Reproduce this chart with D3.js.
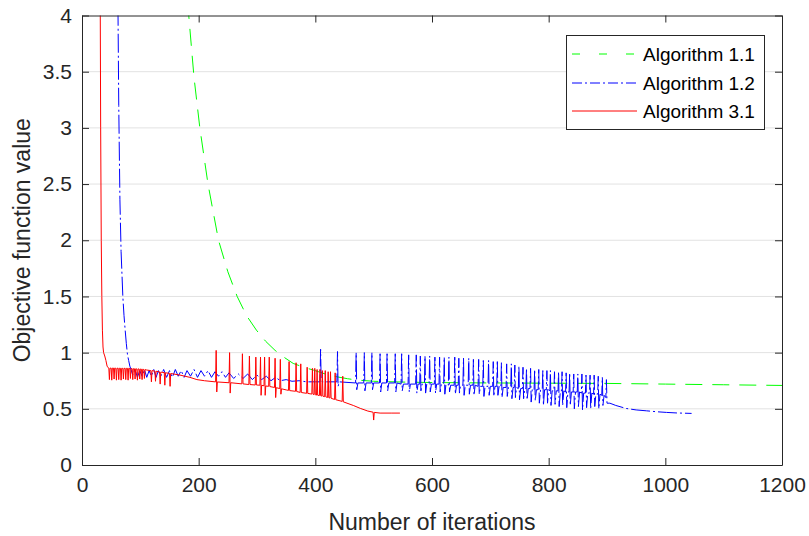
<!DOCTYPE html>
<html>
<head>
<meta charset="utf-8">
<script src="https://cdn.jsdelivr.net/npm/d3@7"></script>
<style>
  html, body { margin: 0; padding: 0; background: #fff; }
  svg { display: block; }
  text { font-family: "Liberation Sans", Arial, Helvetica, sans-serif; }
</style>
</head>
<body>
<svg id="chart" width="809" height="536"></svg>
<script>
// ---- Data ----
const xTicks = [0, 200, 400, 600, 800, 1000, 1200];
const yTicks = [0, 0.5, 1, 1.5, 2, 2.5, 3, 3.5, 4];
const yTickLabels = ["0", "0.5", "1", "1.5", "2", "2.5", "3", "3.5", "4"];
const seriesNames = ["Algorithm 1.1", "Algorithm 1.2", "Algorithm 3.1"];

// Algorithm 1.1 (green, dashed)
const alg11 = [[175,4.6],[183,4.0],[192,3.45],[202,3.0],[216,2.5],[234,2.0],[250,1.72],[266,1.5],[282,1.33],
  [299,1.2],[315,1.1],[331,1.02],[346,0.96],[362,0.904],[380,0.87],[397,0.844],[417,0.81],[437,0.785],
  [455,0.768],[471,0.756],[500,0.745],[550,0.738],[600,0.734],[700,0.73],[800,0.728],[900,0.726],
  [1000,0.72],[1100,0.714],[1200,0.708]];

// Algorithm 1.2 (blue, dash-dot)
const alg12 = [[58,6],[61,4.5],[63,3.2],[65,2.36],[67,1.9],[70,1.5],[72,1.33],[74,1.2],[76,1.08],[78,0.98],
  [80,0.93],[82,0.88],[84,0.85],[87,0.80],[91,0.85],[95,0.78],[99,0.84],[103,0.79],[107,0.85],[111,0.78],
  [115,0.84],[119,0.79],[123,0.85],[127,0.78],[131,0.84],[135,0.79],[140,0.85],[145,0.78],[150,0.84],
  [155,0.78],[160,0.85],[165,0.79],[170,0.84],[175,0.78],[180,0.84],[186,0.79],[192,0.85],[198,0.78],
  [204,0.84],[210,0.79],[216,0.84],[222,0.78],[228,0.83],[234,0.79],[240,0.83],[246,0.78],[252,0.82],
  [260,0.77],[268,0.81],[276,0.77],[284,0.81],[292,0.76],[300,0.80],[308,0.76],[316,0.79],[324,0.75],
  [332,0.78],[340,0.75],[350,0.76],[360,0.745],[372,0.75],[385,0.74],[400,0.74],[408,0.74],
  [409,1.03],[410,0.76],[412,0.74],[437,0.74],[438,1.01],[439,0.70],[441,0.74],
  [469,0.73],[470,1.00],[471,0.67],[473,0.73],[483,0.73],[484,1.00],[485,0.66],[487,0.73],
  [496,0.73],[497,1.00],[498,0.67],[500,0.73],[510,0.73],[511,0.99],[512,0.65],[514,0.73],
  [522,0.73],[523,0.99],[524,0.66],[526,0.73],[536,0.73],[537,0.99],[538,0.65],[540,0.73],
  [547,0.72],[548,0.99],[549,0.66],[551,0.72],[559,0.72],[560,0.98],[561,0.65],[563,0.72],
  [572,0.72],[573,0.98],[574,0.64],[576,0.72],[579,0.72],[580,0.97],[581,0.66],[583,0.72],
  [587,0.72],[588,0.97],[589,0.64],[591,0.72],[595,0.72],[596,0.97],[597,0.65],[599,0.72],
  [604,0.72],[605,0.96],[606,0.64],[608,0.72],[612,0.72],[613,0.96],[614,0.65],[616,0.72],
  [620,0.72],[621,0.96],[622,0.63],[624,0.72],[628,0.71],[629,0.96],[630,0.65],[632,0.71],
  [638,0.71],[639,0.96],[640,0.63],[642,0.71],[645,0.71],[646,0.95],[647,0.64],[649,0.71],
  [653,0.71],[654,0.95],[655,0.62],[657,0.71],[662,0.71],[663,0.95],[664,0.63],[666,0.71],
  [670,0.71],[671,0.94],[672,0.62],[674,0.71],[679,0.70],[680,0.94],[681,0.63],[683,0.70],
  [687,0.70],[688,0.93],[689,0.61],[691,0.70],[696,0.70],[697,0.93],[698,0.62],[700,0.70],
  [704,0.70],[705,0.92],[706,0.61],[708,0.70],[711,0.70],[712,0.92],[713,0.62],[715,0.70],
  [718,0.69],[719,0.91],[720,0.60],[722,0.69],[727,0.69],[728,0.90],[729,0.61],[731,0.69],
  [735,0.69],[736,0.90],[737,0.59],[739,0.69],[741,0.69],[742,0.89],[743,0.60],[745,0.69],
  [748,0.68],[749,0.88],[750,0.58],[752,0.68],[755,0.68],[756,0.87],[757,0.59],[759,0.68],
  [761,0.68],[762,0.86],[763,0.58],[765,0.68],[768,0.68],[769,0.86],[770,0.56],[772,0.68],
  [775,0.67],[776,0.85],[777,0.57],[779,0.67],[782,0.67],[783,0.85],[784,0.55],[786,0.67],
  [789,0.67],[790,0.84],[791,0.53],[793,0.67],[796,0.67],[797,0.84],[798,0.55],[800,0.67],
  [802,0.66],[803,0.84],[804,0.53],[806,0.66],[809,0.66],[810,0.83],[811,0.54],[813,0.66],
  [816,0.66],[817,0.83],[818,0.52],[820,0.66],[822,0.66],[823,0.83],[824,0.53],[826,0.66],
  [829,0.65],[830,0.82],[831,0.51],[833,0.65],[835,0.65],[836,0.82],[837,0.53],[839,0.65],
  [842,0.65],[843,0.81],[844,0.50],[846,0.65],[849,0.65],[850,0.81],[851,0.52],[853,0.65],
  [856,0.64],[857,0.81],[858,0.49],[860,0.64],[863,0.64],[864,0.80],[865,0.51],[867,0.64],
  [870,0.64],[871,0.80],[872,0.50],[874,0.64],[877,0.63],[878,0.80],[879,0.52],[881,0.63],
  [884,0.63],[885,0.79],[886,0.50],[888,0.63],[891,0.62],[892,0.78],[893,0.53],[895,0.62],
  [898,0.60],[899,0.76],[900,0.55],[905,0.55],[915,0.53],[933,0.503],[950,0.49],[968,0.482],
  [985,0.474],[1002,0.468],[1020,0.463],[1045,0.459]];

// Algorithm 3.1 (red, solid)
const alg31 = [[29,6],[31,4.5],[32,3.0],[33,2.0],[34,1.5],[35,1.2],[36,1.05],[37,1.0],[39,0.97],[41,0.93],
  [43,0.88],[45,0.865],
  [46,0.862],[47,0.76],[48,0.862],[50,0.862],[51,0.755],[52,0.862],[54,0.862],[55,0.765],[56,0.862],
  [58,0.861],[59,0.755],[60,0.861],[62,0.861],[63,0.76],[64,0.861],[66,0.86],[67,0.755],[68,0.86],
  [70,0.86],[71,0.765],[72,0.86],[74,0.86],[75,0.76],[76,0.86],[78,0.86],[79,0.755],[80,0.86],
  [82,0.858],[83,0.77],[84,0.858],[86,0.857],[87,0.76],[88,0.857],[90,0.856],[91,0.765],[92,0.856],
  [94,0.855],[95,0.755],[96,0.855],[98,0.854],[99,0.765],[100,0.854],[102,0.852],[103,0.76],[104,0.852],
  [106,0.85],[107,0.77],[108,0.849],[111,0.845],
  [118,0.84],[119,0.74],[120,0.84],[125,0.835],[126,0.745],[127,0.834],[133,0.828],[134,0.72],[135,0.827],
  [141,0.822],[142,0.71],[143,0.821],[150,0.815],[151,0.70],[152,0.814],
  [168,0.80],[185,0.78],[197,0.76],[210,0.75],[228,0.74],
  [229,0.74],[230,1.02],[231,0.65],[232,0.739],[252,0.732],[253,1.0],[254,0.64],[255,0.732],
  [274,0.722],[275,0.99],[276,0.722],[286,0.716],[287,0.97],[288,0.716],[297,0.712],[298,0.96],[299,0.712],
  [305,0.71],[306,0.96],[307,0.62],[308,0.709],[312,0.705],[313,0.96],[314,0.62],[315,0.703],
  [320,0.70],[321,0.96],[322,0.698],[330,0.69],[331,0.95],[332,0.60],[333,0.688],
  [339,0.68],[340,0.94],[341,0.63],[342,0.678],[351,0.667],[354,0.664],[355,0.92],[356,0.662],
  [366,0.656],[367,0.91],[368,0.654],[374,0.646],[375,0.90],[376,0.645],
  [385,0.638],[386,0.87],[387,0.637],[394,0.631],[395,0.86],[396,0.63],
  [398,0.627],[399,0.86],[400,0.625],[402,0.622],[403,0.85],[404,0.621],
  [407,0.618],[408,0.85],[409,0.617],[411,0.613],[412,0.84],[413,0.612],
  [416,0.608],[417,0.84],[418,0.606],[421,0.601],[422,0.83],[423,0.599],
  [425,0.596],[426,0.83],[427,0.594],[433,0.583],[434,0.82],[435,0.581],
  [446,0.566],[447,0.79],[448,0.562],[465,0.53],[477,0.504],[490,0.48],[499,0.47],[500,0.40],[501,0.468],
  [511,0.462],[530,0.462],[545,0.462]];

const seriesData = [alg11, alg12, alg31];
const seriesColors = ["#00ff00", "#0000ff", "#ff0000"];
const seriesDash = ["17,10", "19,3,2,3", null];
const legendDash = ["8,19", "10,3,2,3", null];

// ---- Layout ----
const svg = d3.select("#chart");
const L = 82, R = 782, T = 15.5, B = 465;
const x = d3.scaleLinear().domain([0, 1200]).range([L, R]);
const y = d3.scaleLinear().domain([0, 4]).range([B, T]);
const axisColor = "#262626";

// grid
svg.append("g").selectAll("line").data(yTicks.filter(v => v > 0 && v < 4)).join("line")
  .attr("x1", L).attr("x2", R).attr("y1", d => y(d)).attr("y2", d => y(d))
  .attr("stroke", "#e2e2e2").attr("stroke-width", 1);

// clip
svg.append("clipPath").attr("id", "clip").append("rect")
  .attr("x", L).attr("y", T).attr("width", R - L).attr("height", B - T);

const line = d3.line().x(d => x(d[0])).y(d => y(d[1]));
const plot = svg.append("g").attr("clip-path", "url(#clip)");
seriesData.forEach((s, i) => {
  plot.append("path").datum(s).attr("d", line)
    .attr("fill", "none").attr("stroke", seriesColors[i]).attr("stroke-width", 1)
    .attr("stroke-dasharray", seriesDash[i]);
});

// axes
function styleAxis(g) {
  g.select(".domain").attr("stroke", axisColor).attr("stroke-width", 1);
  g.selectAll(".tick line").attr("stroke", axisColor).attr("stroke-width", 1);
  g.selectAll(".tick text").attr("fill", axisColor).style("font-size", "21px");
  g.attr("font-family", null);
}
svg.append("g").attr("transform", `translate(0,${B})`)
  .call(d3.axisBottom(x).tickValues(xTicks).tickFormat(d3.format("d")).tickSizeInner(-7).tickSizeOuter(0).tickPadding(12))
  .call(styleAxis);
svg.append("g").attr("transform", `translate(0,${T})`)
  .call(d3.axisTop(x).tickValues(xTicks).tickFormat("").tickSizeInner(-7).tickSizeOuter(0))
  .call(styleAxis);
svg.append("g").attr("transform", `translate(${L},0)`)
  .call(d3.axisLeft(y).tickValues(yTicks).tickFormat((d, i) => yTickLabels[i]).tickSizeInner(-7).tickSizeOuter(0).tickPadding(10))
  .call(styleAxis);
svg.append("g").attr("transform", `translate(${R},0)`)
  .call(d3.axisRight(y).tickValues(yTicks).tickFormat("").tickSizeInner(-7).tickSizeOuter(0))
  .call(styleAxis);

// axis labels
svg.append("text").attr("x", (L + R) / 2).attr("y", 530).attr("text-anchor", "middle")
  .attr("fill", axisColor).style("font-size", "23px").text("Number of iterations");
svg.append("text").attr("transform", `translate(30,${(T + B) / 2}) rotate(-90)`).attr("text-anchor", "middle")
  .attr("fill", axisColor).style("font-size", "23px").text("Objective function value");

// legend
const lg = svg.append("g");
lg.append("rect").attr("x", 566.5).attr("y", 35.5).attr("width", 198).attr("height", 94)
  .attr("fill", "#fff").attr("stroke", axisColor).attr("stroke-width", 1);
const rowsY = [54, 83, 111];
seriesNames.forEach((n, i) => {
  lg.append("line").attr("x1", 572).attr("x2", 637).attr("y1", rowsY[i]).attr("y2", rowsY[i])
    .attr("stroke", seriesColors[i]).attr("stroke-width", 1).attr("stroke-dasharray", legendDash[i]);
  lg.append("text").attr("x", 643).attr("y", rowsY[i] + 7).attr("fill", "#000")
    .style("font-size", "19px").text(n);
});
</script>
</body>
</html>
